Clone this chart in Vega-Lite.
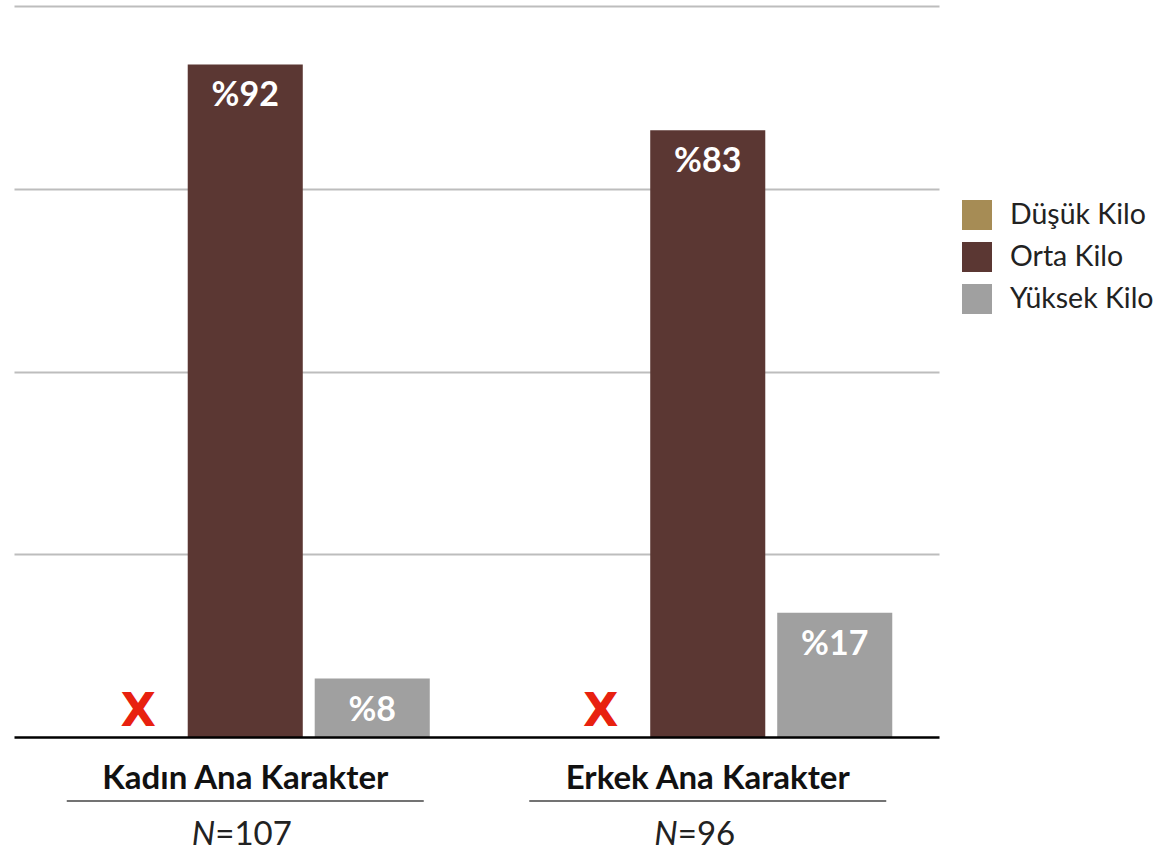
{
  "$schema": "https://vega.github.io/schema/vega-lite/v6.json",
  "width": 925,
  "height": 731,
  "autosize": {"type": "none"},
  "padding": {"left": 14, "top": 6, "right": 221, "bottom": 115},
  "background": "white",
  "config": {"view": {"stroke": null}, "font": "Lato"},
  "datasets": {
    "bars": [
      {"group": "Kadın Ana Karakter", "category": "Düşük Kilo", "value": 0, "label": "%0"},
      {"group": "Kadın Ana Karakter", "category": "Orta Kilo", "value": 92, "label": "%92"},
      {"group": "Kadın Ana Karakter", "category": "Yüksek Kilo", "value": 8, "label": "%8"},
      {"group": "Erkek Ana Karakter", "category": "Düşük Kilo", "value": 0, "label": "%0"},
      {"group": "Erkek Ana Karakter", "category": "Orta Kilo", "value": 83, "label": "%83"},
      {"group": "Erkek Ana Karakter", "category": "Yüksek Kilo", "value": 17, "label": "%17"}
    ],
    "groups": [
      {"group": "Kadın Ana Karakter", "n": "=107"},
      {"group": "Erkek Ana Karakter", "n": "=96"}
    ]
  },
  "layer": [
    {
      "data": {"name": "bars"},
      "mark": {"type": "bar"},
      "encoding": {
        "x": {"field": "group", "type": "nominal", "title": null,
          "scale": {"domain": ["Kadın Ana Karakter", "Erkek Ana Karakter"], "paddingInner": 0, "paddingOuter": 0},
          "axis": {"title": null, "domain": true, "domainColor": "#000000", "domainWidth": 2.5, "ticks": false, "tickSize": 0, "labelAngle": 0, "labelFontSize": 33, "labelFontWeight": "bold", "labelColor": "#111111", "labelBaseline": "alphabetic", "labelPadding": 51, "labelLimit": 0, "grid": false, "zindex": 1, "labelFont": "Lato"}},
        "xOffset": {"field": "category", "type": "nominal",
          "scale": {"domain": ["Düşük Kilo", "Orta Kilo", "Yüksek Kilo"], "paddingInner": 0.094, "paddingOuter": 0.368}},
        "y": {"field": "value", "type": "quantitative", "scale": {"domain": [0, 100]},
          "axis": {"title": null, "values": [25, 50, 75, 100], "labels": false, "ticks": false, "domain": false, "grid": true, "gridColor": "#bdbdbd", "gridWidth": 2}},
        "color": {"field": "category", "type": "nominal",
          "scale": {"domain": ["Düşük Kilo", "Orta Kilo", "Yüksek Kilo"], "range": ["#a68c55", "#5b3733", "#a0a0a0"]},
          "legend": {"title": null, "orient": "none", "legendX": 948, "legendY": 194, "symbolType": "square", "symbolSize": 900, "symbolStrokeWidth": 0, "labelFontSize": 28.5, "labelColor": "#222222", "labelOffset": 18, "rowPadding": 12, "labelFont": "Lato", "labelLimit": 0, "padding": 0}}
      }
    },
    {
      "data": {"name": "bars"},
      "transform": [{"filter": "datum.value > 0"}],
      "mark": {"type": "text", "baseline": "alphabetic", "dy": 42, "color": "#ffffff", "fontSize": 34, "fontWeight": "bold", "font": "Lato"},
      "encoding": {
        "x": {"field": "group", "type": "nominal", "title": null,
          "scale": {"domain": ["Kadın Ana Karakter", "Erkek Ana Karakter"], "paddingInner": 0, "paddingOuter": 0},
          "axis": {"title": null, "domain": true, "domainColor": "#000000", "domainWidth": 2.5, "ticks": false, "tickSize": 0, "labelAngle": 0, "labelFontSize": 33, "labelFontWeight": "bold", "labelColor": "#111111", "labelBaseline": "alphabetic", "labelPadding": 51, "labelLimit": 0, "grid": false, "zindex": 1, "labelFont": "Lato"}},
        "xOffset": {"field": "category", "type": "nominal",
          "scale": {"domain": ["Düşük Kilo", "Orta Kilo", "Yüksek Kilo"], "paddingInner": 0.094, "paddingOuter": 0.368}},
        "y": {"field": "value", "type": "quantitative", "scale": {"domain": [0, 100]},
          "axis": {"title": null, "values": [25, 50, 75, 100], "labels": false, "ticks": false, "domain": false, "grid": true, "gridColor": "#bdbdbd", "gridWidth": 2}},
        "text": {"field": "label", "type": "nominal"}
      }
    },
    {
      "data": {"name": "bars"},
      "transform": [{"filter": "datum.value == 0"}],
      "mark": {"type": "text", "text": "X", "baseline": "alphabetic", "dx": 20, "dy": -11, "color": "#e8210f", "fontSize": 46, "fontWeight": "bold", "font": "DejaVu Sans"},
      "encoding": {
        "x": {"field": "group", "type": "nominal", "title": null,
          "scale": {"domain": ["Kadın Ana Karakter", "Erkek Ana Karakter"], "paddingInner": 0, "paddingOuter": 0},
          "axis": {"title": null, "domain": true, "domainColor": "#000000", "domainWidth": 2.5, "ticks": false, "tickSize": 0, "labelAngle": 0, "labelFontSize": 33, "labelFontWeight": "bold", "labelColor": "#111111", "labelBaseline": "alphabetic", "labelPadding": 51, "labelLimit": 0, "grid": false, "zindex": 1, "labelFont": "Lato"}},
        "xOffset": {"field": "category", "type": "nominal",
          "scale": {"domain": ["Düşük Kilo", "Orta Kilo", "Yüksek Kilo"], "paddingInner": 0.094, "paddingOuter": 0.368}},
        "y": {"field": "value", "type": "quantitative", "scale": {"domain": [0, 100]},
          "axis": {"title": null, "values": [25, 50, 75, 100], "labels": false, "ticks": false, "domain": false, "grid": true, "gridColor": "#bdbdbd", "gridWidth": 2}}
      }
    },
    {
      "data": {"name": "groups"},
      "mark": {"type": "tick", "orient": "horizontal", "size": 357, "thickness": 1.5, "color": "#444444", "opacity": 1},
      "encoding": {
        "x": {"field": "group", "type": "nominal", "title": null,
          "scale": {"domain": ["Kadın Ana Karakter", "Erkek Ana Karakter"], "paddingInner": 0, "paddingOuter": 0},
          "axis": {"title": null, "domain": true, "domainColor": "#000000", "domainWidth": 2.5, "ticks": false, "tickSize": 0, "labelAngle": 0, "labelFontSize": 33, "labelFontWeight": "bold", "labelColor": "#111111", "labelBaseline": "alphabetic", "labelPadding": 51, "labelLimit": 0, "grid": false, "zindex": 1, "labelFont": "Lato"}},
        "y": {"datum": -8.75, "type": "quantitative", "scale": {"domain": [0, 100]},
          "axis": {"title": null, "values": [25, 50, 75, 100], "labels": false, "ticks": false, "domain": false, "grid": true, "gridColor": "#bdbdbd", "gridWidth": 2}}
      }
    },
    {
      "data": {"name": "groups"},
      "mark": {"type": "text", "text": "N", "align": "right", "baseline": "alphabetic", "dx": -30, "fontStyle": "italic", "fontSize": 33, "color": "#222222", "font": "Lato"},
      "encoding": {
        "x": {"field": "group", "type": "nominal", "title": null,
          "scale": {"domain": ["Kadın Ana Karakter", "Erkek Ana Karakter"], "paddingInner": 0, "paddingOuter": 0},
          "axis": {"title": null, "domain": true, "domainColor": "#000000", "domainWidth": 2.5, "ticks": false, "tickSize": 0, "labelAngle": 0, "labelFontSize": 33, "labelFontWeight": "bold", "labelColor": "#111111", "labelBaseline": "alphabetic", "labelPadding": 51, "labelLimit": 0, "grid": false, "zindex": 1, "labelFont": "Lato"}},
        "y": {"datum": -14.8, "type": "quantitative", "scale": {"domain": [0, 100]},
          "axis": {"title": null, "values": [25, 50, 75, 100], "labels": false, "ticks": false, "domain": false, "grid": true, "gridColor": "#bdbdbd", "gridWidth": 2}}
      }
    },
    {
      "data": {"name": "groups"},
      "mark": {"type": "text", "align": "left", "baseline": "alphabetic", "dx": -30, "fontSize": 33, "color": "#222222", "font": "Lato"},
      "encoding": {
        "x": {"field": "group", "type": "nominal", "title": null,
          "scale": {"domain": ["Kadın Ana Karakter", "Erkek Ana Karakter"], "paddingInner": 0, "paddingOuter": 0},
          "axis": {"title": null, "domain": true, "domainColor": "#000000", "domainWidth": 2.5, "ticks": false, "tickSize": 0, "labelAngle": 0, "labelFontSize": 33, "labelFontWeight": "bold", "labelColor": "#111111", "labelBaseline": "alphabetic", "labelPadding": 51, "labelLimit": 0, "grid": false, "zindex": 1, "labelFont": "Lato"}},
        "y": {"datum": -14.8, "type": "quantitative", "scale": {"domain": [0, 100]},
          "axis": {"title": null, "values": [25, 50, 75, 100], "labels": false, "ticks": false, "domain": false, "grid": true, "gridColor": "#bdbdbd", "gridWidth": 2}},
        "text": {"field": "n", "type": "nominal"}
      }
    }
  ]
}
